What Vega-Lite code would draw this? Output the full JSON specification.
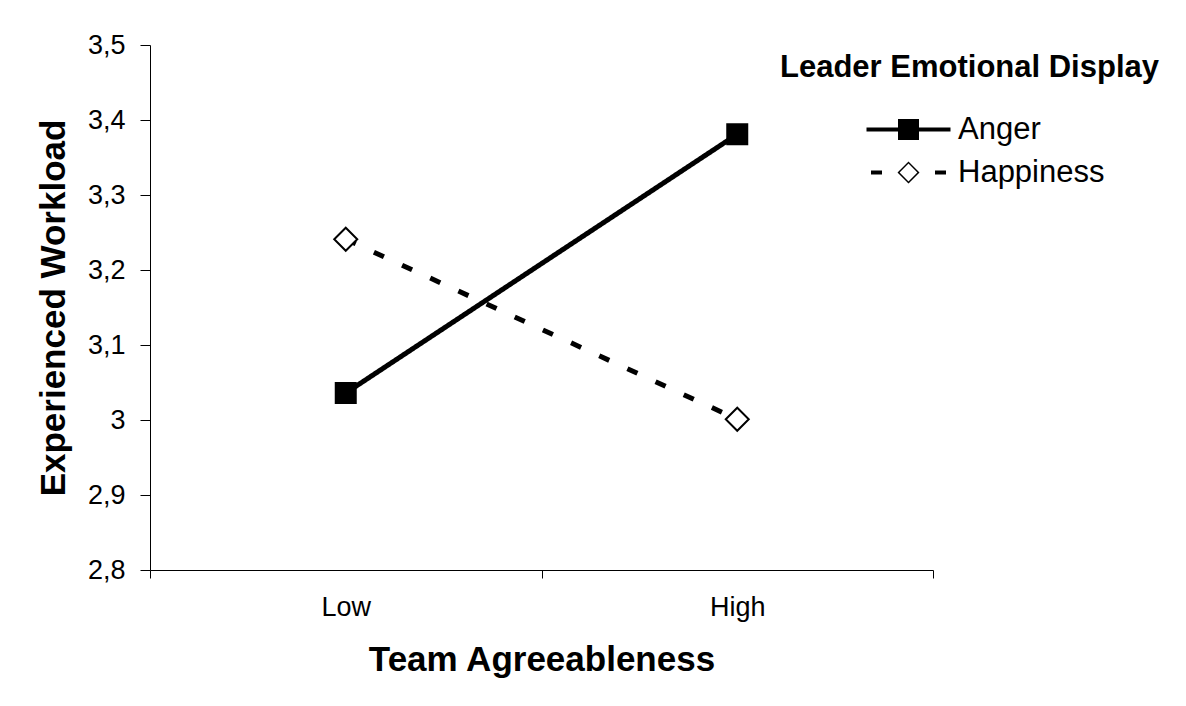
{
  "$schema": "https://vega.github.io/schema/vega-lite/v6.json",
  "width": 783,
  "height": 525,
  "autosize": "none",
  "padding": {"left": 150, "top": 45, "right": 253, "bottom": 136},
  "background": "white",
  "config": {
    "font": "Liberation Sans",
    "view": {"stroke": null},
    "axis": {"grid": false, "domainColor": "black", "tickColor": "black", "labelColor": "black", "titleColor": "black", "domainWidth": 1, "tickWidth": 1}
  },
  "data": {
    "values": [
      {"agree": "Low", "display": "Anger", "workload": 3.036},
      {"agree": "High", "display": "Anger", "workload": 3.381},
      {"agree": "Low", "display": "Happiness", "workload": 3.241},
      {"agree": "High", "display": "Happiness", "workload": 3.001}
    ]
  },
  "encoding": {
    "x": {
      "field": "agree", "type": "nominal", "sort": ["Low", "High"],
      "scale": {"type": "band", "paddingInner": 0, "paddingOuter": 0},
      "axis": {"title": "Team Agreeableness", "titleFontSize": 35, "titleFontWeight": "bold", "titlePadding": 22, "labelFontSize": 27, "labelAngle": 0, "labelPadding": 16, "tickSize": 8, "tickBand": "extent"}
    },
    "y": {
      "field": "workload", "type": "quantitative",
      "scale": {"domain": [2.8, 3.5], "zero": false, "nice": false},
      "axis": {"values": [2.8, 2.9, 3.0, 3.1, 3.2, 3.3, 3.4, 3.5], "labelExpr": "replace(format(datum.value, '~g'), '.', ',')", "title": "Experienced Workload", "titleFontSize": 35, "titleFontWeight": "bold", "titlePadding": 16, "labelFontSize": 27, "labelPadding": 15, "tickSize": 10}
    }
  },
  "layer": [
    {
      "mark": {"type": "line", "color": "black", "strokeWidth": 5},
      "encoding": {
        "strokeDash": {"field": "display", "type": "nominal", "scale": {"domain": ["Anger", "Happiness"], "range": [[1, 0], [11, 20]]}, "legend": null}
      }
    },
    {
      "mark": {"type": "point", "filled": true, "opacity": 1, "stroke": "black", "strokeWidth": 2},
      "encoding": {
        "shape": {"field": "display", "type": "nominal", "scale": {"domain": ["Anger", "Happiness"], "range": ["square", "diamond"]}, "legend": null},
        "fill": {"field": "display", "type": "nominal", "scale": {"domain": ["Anger", "Happiness"], "range": ["black", "white"]}, "legend": null},
        "size": {"field": "display", "type": "nominal", "scale": {"domain": ["Anger", "Happiness"], "range": [400, 529]}, "legend": null}
      }
    },
    {
      "mark": {"type": "point", "filled": true, "color": "black", "opacity": 0},
      "encoding": {
        "shape": {
          "field": "display", "type": "nominal",
          "scale": {"domain": ["Anger", "Happiness"], "range": [
            "M-4.2,-0.2H4.2V0.2H-4.2Z M-1.05,-1.05H1.05V1.05H-1.05Z",
            "M-3.75,-0.2H-2.65V0.2H-3.75Z M2.65,-0.2H3.75V0.2H2.65Z M0,-1.1L1.1,0L0,1.1L-1.1,0Z M0,-0.89L-0.89,0L0,0.89L0.89,0Z"
          ]},
          "legend": {
            "orient": "none", "legendX": 630, "legendY": 8,
            "title": "Leader Emotional Display", "titleFontSize": 31, "titleFontWeight": "bold", "titleColor": "black", "titlePadding": 30, "titleLimit": 600,
            "labelFontSize": 31, "labelColor": "black", "labelOffset": 34, "symbolOffset": 113, "labelLimit": 400,
            "symbolSize": 400, "symbolFillColor": "black", "symbolStrokeColor": "black", "symbolStrokeWidth": 0, "symbolOpacity": 1,
            "rowPadding": 11, "padding": 0
          }
        }
      }
    }
  ],
  "resolve": {"scale": {"shape": "independent", "fill": "independent", "size": "independent"}}
}
